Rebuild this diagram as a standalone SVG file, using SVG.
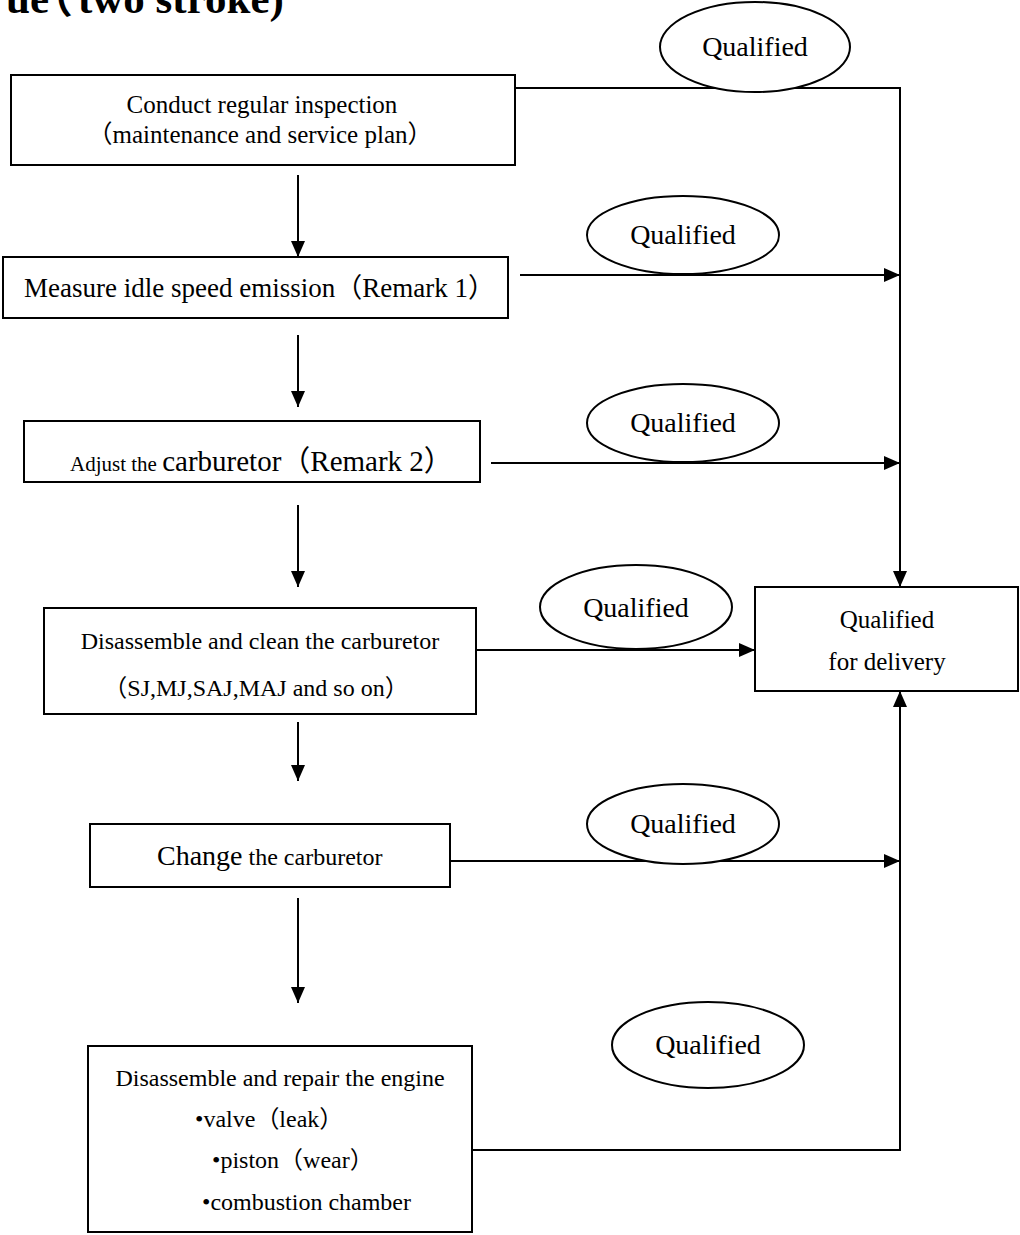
<svg xmlns="http://www.w3.org/2000/svg" width="1020" height="1235" viewBox="0 0 1020 1235">
<style>
  .box { fill: #fff; stroke: #000; stroke-width: 2; }
  .ell { fill: #fff; stroke: #000; stroke-width: 2; }
  .t { font-family: "Liberation Serif", "Noto Sans CJK SC", serif; fill: #000; }
  .c { text-anchor: middle; }
  .line { fill: none; stroke: #000; stroke-width: 2; }
  .title { font-family: "Liberation Serif", "Noto Sans CJK SC", serif; font-weight: bold; font-size: 43px; fill: #000; }
</style>
<defs>
  <marker id="ah" viewBox="0 0 16 14" refX="16" refY="7" markerWidth="16" markerHeight="14" orient="auto" markerUnits="userSpaceOnUse">
    <path d="M0,0 L16,7 L0,14 z" fill="#000"/>
  </marker>
</defs>
<rect width="1020" height="1235" fill="#fff"/>
<text class="title" x="6" y="13">ue<tspan dx="-19">（</tspan><tspan dx="5">two stroke)</tspan></text>

<g id="connectors">
  <path class="line" d="M515,88 H900 V587" marker-end="url(#ah)"/>
  <path class="line" d="M298,175 V257" marker-end="url(#ah)"/>
  <path class="line" d="M520,275 H900" marker-end="url(#ah)"/>
  <path class="line" d="M298,335 V407" marker-end="url(#ah)"/>
  <path class="line" d="M491,463 H900" marker-end="url(#ah)"/>
  <path class="line" d="M298,505 V587" marker-end="url(#ah)"/>
  <path class="line" d="M467,650 H755" marker-end="url(#ah)"/>
  <path class="line" d="M298,722 V781" marker-end="url(#ah)"/>
  <path class="line" d="M443,861 H900" marker-end="url(#ah)"/>
  <path class="line" d="M298,898 V1003" marker-end="url(#ah)"/>
  <path class="line" d="M467,1150 H900 V691" marker-end="url(#ah)"/>
</g>

<g id="q1"><ellipse class="ell" cx="755" cy="47" rx="95" ry="45"/><text class="t c" x="755" y="56" font-size="28">Qualified</text></g>
<g id="q2"><ellipse class="ell" cx="683" cy="235" rx="96" ry="39"/><text class="t c" x="683" y="244" font-size="28">Qualified</text></g>
<g id="q3"><ellipse class="ell" cx="683" cy="423" rx="96" ry="39"/><text class="t c" x="683" y="432" font-size="28">Qualified</text></g>
<g id="q4"><ellipse class="ell" cx="636" cy="607" rx="96" ry="42"/><text class="t c" x="636" y="617" font-size="28">Qualified</text></g>
<g id="q5"><ellipse class="ell" cx="683" cy="824" rx="96" ry="40"/><text class="t c" x="683" y="833" font-size="28">Qualified</text></g>
<g id="q6"><ellipse class="ell" cx="708" cy="1045" rx="96" ry="43"/><text class="t c" x="708" y="1054" font-size="28">Qualified</text></g>

<g id="box1">
  <rect class="box" x="11" y="75" width="504" height="90"/>
  <text class="t c" x="262" y="113" font-size="25">Conduct regular inspection</text>
  <text class="t c" x="260" y="143" font-size="25">（maintenance and service plan）</text>
</g>
<g id="box2">
  <rect class="box" x="3" y="257" width="505" height="61"/>
  <text class="t" x="24" y="297" font-size="27">Measure idle speed emission（Remark 1）</text>
</g>
<g id="box3">
  <rect class="box" x="24" y="421" width="456" height="61"/>
  <text class="t" x="70" y="471"><tspan font-size="21">Adjust the </tspan><tspan font-size="29">carburetor（Remark 2）</tspan></text>
</g>
<g id="box4">
  <rect class="box" x="44" y="608" width="432" height="106"/>
  <text class="t c" x="260" y="649" font-size="24">Disassemble and clean the carburetor</text>
  <text class="t c" x="256" y="696" font-size="24">（SJ,MJ,SAJ,MAJ and so on）</text>
</g>
<g id="box5">
  <rect class="box" x="90" y="824" width="360" height="63"/>
  <text class="t" x="157" y="865"><tspan font-size="28">Change</tspan><tspan font-size="24"> the carburetor</tspan></text>
</g>
<g id="box6">
  <rect class="box" x="88" y="1046" width="384" height="186"/>
  <text class="t c" x="280" y="1086" font-size="24">Disassemble and repair the engine</text>
  <text class="t" x="195" y="1127" font-size="24">•valve（leak）</text>
  <text class="t" x="212" y="1168" font-size="24">•piston（wear）</text>
  <text class="t" x="202" y="1210" font-size="24">•combustion chamber</text>
</g>
<g id="delivery">
  <rect class="box" x="755" y="587" width="263" height="104"/>
  <text class="t c" x="887" y="628" font-size="25">Qualified</text>
  <text class="t c" x="887" y="670" font-size="25">for delivery</text>
</g>
</svg>
